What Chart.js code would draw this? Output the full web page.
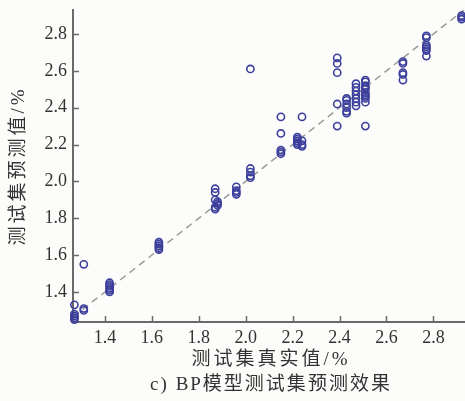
<!DOCTYPE html>
<html>
<head>
<meta charset="utf-8">
<script src="https://cdn.jsdelivr.net/npm/chart.js@4.4.1/dist/chart.umd.min.js"></script>
<style>
  html, body { margin: 0; padding: 0; background: #fcfcfa; overflow: hidden; }
  /* 5px wider than the window: chart.js keeps a 5px gap on the right */
  #wrap { width: 470px; height: 401px; position: relative; }
</style>
</head>
<body>
<div id="wrap"><canvas id="chart"></canvas></div>
<script>
// tick labels
const xTicks = [1.4, 1.6, 1.8, 2.0, 2.2, 2.4, 2.6, 2.8];
const yTicks = [1.4, 1.6, 1.8, 2.0, 2.2, 2.4, 2.6, 2.8];

// test set: true value (x) and BP predicted value (y)
const actual = [
  1.27, 1.27, 1.27, 1.27, 1.27,
  1.31, 1.31, 1.31,
  1.42, 1.42, 1.42, 1.42, 1.42, 1.42,
  1.63, 1.63, 1.63, 1.63, 1.63,
  1.87, 1.87, 1.87, 1.87, 1.87,
  1.88, 1.88, 1.88,
  1.96, 1.96, 1.96, 1.96,
  2.02, 2.02, 2.02, 2.02, 2.02,
  2.15, 2.15, 2.15, 2.15, 2.15,
  2.22, 2.22, 2.22, 2.22, 2.22,
  2.24, 2.24, 2.24, 2.24,
  2.39, 2.39, 2.39, 2.39, 2.39,
  2.43, 2.43, 2.43, 2.43, 2.43, 2.43,
  2.47, 2.47, 2.47, 2.47, 2.47, 2.47, 2.47,
  2.51, 2.51, 2.51, 2.51, 2.51, 2.51, 2.51, 2.51, 2.51, 2.51, 2.51,
  2.67, 2.67, 2.67, 2.67, 2.67,
  2.77, 2.77, 2.77, 2.77, 2.77, 2.77, 2.77,
  2.92, 2.92, 2.92
];
const predicted = [
  1.33, 1.28, 1.27, 1.26, 1.25,
  1.55, 1.31, 1.30,
  1.45, 1.44, 1.43, 1.42, 1.41, 1.40,
  1.67, 1.66, 1.65, 1.64, 1.63,
  1.96, 1.94, 1.90, 1.86, 1.85,
  1.89, 1.88, 1.87,
  1.97, 1.95, 1.94, 1.93,
  2.61, 2.07, 2.05, 2.03, 2.02,
  2.35, 2.26, 2.17, 2.16, 2.15,
  2.24, 2.23, 2.22, 2.21, 2.20,
  2.35, 2.22, 2.20, 2.19,
  2.67, 2.64, 2.59, 2.42, 2.30,
  2.45, 2.44, 2.42, 2.40, 2.38, 2.37,
  2.53, 2.51, 2.49, 2.47, 2.45, 2.43, 2.41,
  2.55, 2.54, 2.52, 2.51, 2.50, 2.48, 2.47, 2.46, 2.45, 2.43, 2.30,
  2.65, 2.64, 2.59, 2.58, 2.55,
  2.79, 2.78, 2.74, 2.73, 2.72, 2.71, 2.68,
  2.90, 2.89, 2.88
];

const xRange = [1.264, 2.932];
const yRange = [1.237, 2.930];

const xTitle = '测试集真实值/%';
const yTitle = '测试集预测值/%';
const caption = 'c) BP模型测试集预测效果';

const axisColor = '#6a6a6a';
const textColor = '#333333';

// titles with letter spacing + inward tick marks
const decor = {
  id: 'decor',
  afterDraw(chart) {
    const ctx = chart.ctx;
    const a = chart.chartArea;
    const sx = chart.scales.x, sy = chart.scales.y;

    ctx.save();
    ctx.strokeStyle = axisColor;
    ctx.lineWidth = 1.5;
    ctx.beginPath();
    xTicks.forEach(v => {
      const px = Math.round(sx.getPixelForValue(v)) + 0.5;
      ctx.moveTo(px, a.bottom);
      ctx.lineTo(px, a.bottom - 6);
    });
    yTicks.forEach(v => {
      const py = Math.round(sy.getPixelForValue(v)) + 0.5;
      ctx.moveTo(a.left, py);
      ctx.lineTo(a.left + 6, py);
    });
    ctx.stroke();

    ctx.fillStyle = textColor;
    ctx.textAlign = 'center';
    ctx.textBaseline = 'middle';
    ctx.font = '19px "Liberation Serif", "Noto Sans CJK SC"';
    ctx.letterSpacing = '3px';
    ctx.fillText(xTitle, 271, 360);
    ctx.letterSpacing = '2px';
    ctx.fillText(caption, 271, 385);

    ctx.translate(19, 166);
    ctx.rotate(-Math.PI / 2);
    ctx.letterSpacing = '3px';
    ctx.fillText(yTitle, 0, 0);
    ctx.restore();
  }
};

const tickFont = { family: 'Liberation Serif', size: 18 };

new Chart(document.getElementById('chart'), {
  type: 'scatter',
  data: {
    datasets: [
      {
        data: actual.map((x, i) => ({ x: x, y: predicted[i] })),
        pointStyle: 'circle',
        pointRadius: 3.6,
        pointBorderWidth: 1.6,
        borderColor: '#3c3f9c',
        backgroundColor: 'rgba(0,0,0,0)',
        clip: false
      },
      {
        type: 'line',
        data: [{ x: xRange[0], y: xRange[0] }, { x: xRange[1], y: xRange[1] }],
        borderColor: '#9b9b9b',
        borderWidth: 1.5,
        borderDash: [7, 5],
        pointRadius: 0,
        fill: false
      }
    ]
  },
  options: {
    responsive: true,
    maintainAspectRatio: false,
    animation: false,
    layout: { padding: { top: 10, left: 0, right: 0, bottom: 39 } },
    plugins: { legend: { display: false }, tooltip: { enabled: false } },
    scales: {
      x: {
        type: 'linear',
        min: xRange[0],
        max: xRange[1],
        afterBuildTicks: s => { s.ticks = xTicks.map(v => ({ value: v })); },
        afterFit: s => { s.height = 40; s.paddingLeft = 0; s.paddingRight = 0; },
        grid: { display: false, drawTicks: false },
        border: { display: true, color: axisColor, width: 2 },
        ticks: {
          font: tickFont,
          color: textColor,
          padding: 5,
          maxRotation: 0,
          callback: v => v.toFixed(1)
        }
      },
      y: {
        type: 'linear',
        min: yRange[0],
        max: yRange[1],
        afterBuildTicks: s => { s.ticks = yTicks.map(v => ({ value: v })); },
        afterFit: s => { s.width = 73; s.paddingTop = 0; s.paddingBottom = 0; },
        grid: { display: false, drawTicks: false },
        border: { display: true, color: axisColor, width: 2 },
        ticks: {
          font: tickFont,
          color: textColor,
          padding: 6,
          callback: v => v.toFixed(1)
        }
      }
    }
  },
  plugins: [decor]
});
</script>
</body>
</html>
